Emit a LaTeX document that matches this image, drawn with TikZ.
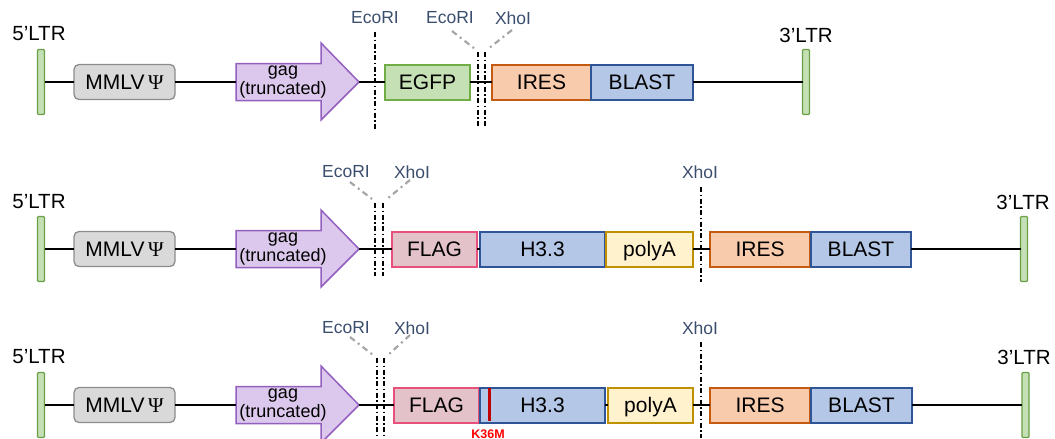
\documentclass[tikz,border=0pt]{standalone}
\usepackage{fontspec}
\setmainfont{Liberation Sans}
\newfontfamily\psifont{Liberation Serif}
\usetikzlibrary{calc}

\definecolor{ltrfill}{HTML}{C5E0B4}
\definecolor{ltrdraw}{HTML}{6A9F45}
\definecolor{mmlvfill}{HTML}{D9D9D9}
\definecolor{mmlvdraw}{HTML}{8C8C8C}
\definecolor{gagfill}{HTML}{DCC8EC}
\definecolor{gagdraw}{HTML}{9360C0}
\definecolor{egfpfill}{HTML}{C5E0B4}
\definecolor{egfpdraw}{HTML}{70AD47}
\definecolor{iresfill}{HTML}{F8CBAD}
\definecolor{iresdraw}{HTML}{C55A11}
\definecolor{blastfill}{HTML}{B4C7E7}
\definecolor{blastdraw}{HTML}{2F5597}
\definecolor{flagfill}{HTML}{E4C2CA}
\definecolor{flagdraw}{HTML}{E8507C}
\definecolor{polyfill}{HTML}{FFF2CC}
\definecolor{polydraw}{HTML}{BF9000}
\definecolor{enzcol}{HTML}{3B4E6E}
\definecolor{mutred}{HTML}{C00000}
\definecolor{mutlabel}{HTML}{FF0000}
\definecolor{sitegray}{HTML}{A6A6A6}

\tikzset{
  every node/.style={inner sep=0pt, outer sep=0pt},
  backbone/.style={line width=1.5pt, black},
  ltr/.style={draw=ltrdraw, fill=ltrfill, line width=1.3pt, rounded corners=1pt,
    minimum width=7pt, minimum height=65pt},
  ltrlabel/.style={font=\fontsize{20.5}{22}\selectfont},
  part/.style={line width=2pt, minimum height=35pt,
    text height=15pt, text depth=0pt, font=\fontsize{21}{23}\selectfont},
  mmlvbox/.style={part, draw=mmlvdraw, fill=mmlvfill, rounded corners=5pt, minimum width=101pt, line width=1.3pt},
  egfpbox/.style={part, draw=egfpdraw, fill=egfpfill},
  iresbox/.style={part, draw=iresdraw, fill=iresfill},
  blastbox/.style={part, draw=blastdraw, fill=blastfill},
  flagbox/.style={part, draw=flagdraw, fill=flagfill},
  polybox/.style={part, draw=polydraw, fill=polyfill},
  gagshape/.style={draw=gagdraw, fill=gagfill, line width=1.5pt, line join=miter},
  gagtext/.style={align=center, font=\fontsize{18}{19}\selectfont},
  enz/.style={text=enzcol, font=\fontsize{17.5}{19}\selectfont},
  site/.style={black, line width=1.4pt, dash pattern=on 5pt off 2.5pt on 1.5pt off 2.5pt},
  sitelead/.style={sitegray, line width=2.2pt, dash pattern=on 6pt off 4pt on 2pt off 4pt},
  mutbar/.style={mutred, line width=3pt},
  mutlab/.style={text=mutlabel, font=\fontsize{12.5}{14}\bfseries\selectfont},
}

% truncated gag arrow; #1 names the text node, its tail and its tip
\newcommand\gagarrow[1]{%
  \draw[gagshape] (236,-18.5) -- (321,-18.5) -- (321,-39) -- (359,0)
    -- (321,38) -- (321,18.5) -- (236,18.5) -- cycle;
  \node[gagtext] (#1) at (283,0) {gag\\(truncated)};
  \coordinate (#1tail) at (236,0);
  \coordinate (#1tip) at (359,0);
}

\begin{document}
\begin{tikzpicture}[x=1pt, y=-1pt]
\useasboundingbox (0,0) rectangle (1055,439);

% ---------------- construct 1: EGFP ----------------
\begin{scope}[shift={(0,82)}]
  \node[ltr] (ltr5a) at (41,0) {};
  \node[ltrlabel] (lab5a) at (39,-48) {5’LTR};
  \node[mmlvbox] (mmlva) at (124.5,0) {MMLV\,{\psifont Ψ}};
  \gagarrow{gaga}
  \node[egfpbox, minimum width=85pt] (egfpa) at (427.5,0) {EGFP};
  \node[iresbox, minimum width=99pt] (iresa) at (541.5,0) {IRES};
  \node[blastbox, minimum width=102pt] (blasta) at (642,0) {BLAST};
  \node[ltr] (ltr3a) at (806,0) {};
  \node[ltrlabel] (lab3a) at (806,-47) {3’LTR};

  \draw[backbone] (ltr5a.east) -- (mmlva.west);
  \draw[backbone] (mmlva.east) -- (gagatail);
  \draw[backbone] (gagatip) -- (egfpa.west);
  \draw[backbone] (egfpa.east) -- (iresa.west);
  \draw[backbone] (blasta.east) -- (ltr3a.west);

  % restriction sites
  \node[enz] (ecoa1) at (375,-64) {EcoRI};
  \coordinate (ecoa1t) at (375,-50);
  \coordinate (ecoa1b) at (375,48);
  \draw[site] (ecoa1t) -- (ecoa1b);

  \node[enz] (ecoa2) at (450,-64) {EcoRI};
  \node[enz] (xhoa) at (513,-64) {XhoI};
  \coordinate (ecoa2s) at (452,-51);
  \coordinate (ecoa2e) at (475,-33);
  \coordinate (xhoas) at (512,-52);
  \coordinate (xhoae) at (488,-33);
  \draw[sitelead] (ecoa2s) -- (ecoa2e);
  \draw[sitelead] (xhoas) -- (xhoae);
  \coordinate (ecoa2t) at (478,-30);
  \coordinate (ecoa2b) at (478,45);
  \coordinate (xhoat) at (485,-30);
  \coordinate (xhoab) at (485,45);
  \draw[site] (ecoa2t) -- (ecoa2b);
  \draw[site] (xhoat) -- (xhoab);
\end{scope}

% ---------------- construct 2: FLAG-H3.3 ----------------
\begin{scope}[shift={(0,249)}]
  \node[ltr] (ltr5b) at (41,0) {};
  \node[ltrlabel] (lab5b) at (39,-47) {5’LTR};
  \node[mmlvbox] (mmlvb) at (124.5,0) {MMLV\,{\psifont Ψ}};
  \gagarrow{gagb}
  \node[flagbox, minimum width=85pt] (flagb) at (434.5,0) {FLAG};
  \node[blastbox, minimum width=125pt] (h33b) at (542.5,0) {H3.3};
  \node[polybox, minimum width=87pt] (polyb) at (649.5,0) {polyA};
  \node[iresbox, minimum width=100pt] (iresb) at (760,0) {IRES};
  \node[blastbox, minimum width=100pt] (blastb) at (861,0) {BLAST};
  \node[ltr] (ltr3b) at (1024,0) {};
  \node[ltrlabel] (lab3b) at (1023,-47) {3’LTR};

  \draw[backbone] (ltr5b.east) -- (mmlvb.west);
  \draw[backbone] (mmlvb.east) -- (gagbtail);
  \draw[backbone] (gagbtip) -- (flagb.west);
  \draw[backbone] (flagb.east) -- (h33b.west);
  \draw[backbone] (polyb.east) -- (iresb.west);
  \draw[backbone] (blastb.east) -- (ltr3b.west);

  \node[enz] (ecob) at (346,-77) {EcoRI};
  \node[enz] (xhob1) at (412,-77) {XhoI};
  \coordinate (ecobs) at (350,-67);
  \coordinate (ecobe) at (372,-50);
  \coordinate (xhob1s) at (410,-69);
  \coordinate (xhob1e) at (387,-50);
  \draw[sitelead] (ecobs) -- (ecobe);
  \draw[sitelead] (xhob1s) -- (xhob1e);
  \coordinate (ecobt) at (375,-46);
  \coordinate (ecobb) at (375,27);
  \coordinate (xhob1t) at (383,-46);
  \coordinate (xhob1b) at (383,27);
  \draw[site] (ecobt) -- (ecobb);
  \draw[site] (xhob1t) -- (xhob1b);

  \node[enz] (xhob2) at (700,-77) {XhoI};
  \coordinate (xhob2t) at (701,-62);
  \coordinate (xhob2b) at (701,33);
  \draw[site] (xhob2t) -- (xhob2b);
\end{scope}

% ---------------- construct 3: FLAG-H3.3 K36M ----------------
\begin{scope}[shift={(0,405)}]
  \node[ltr] (ltr5c) at (41,0) {};
  \node[ltrlabel] (lab5c) at (39,-48) {5’LTR};
  \node[mmlvbox] (mmlvc) at (124.5,0) {MMLV\,{\psifont Ψ}};
  \gagarrow{gagc}
  \node[flagbox, minimum width=85pt] (flagc) at (436.5,0) {FLAG};
  \node[blastbox, minimum width=125pt] (h33c) at (542.5,0) {H3.3};
  \node[polybox, minimum width=85pt] (polyc) at (650.5,0) {polyA};
  \node[iresbox, minimum width=100pt] (iresc) at (760,0) {IRES};
  \node[blastbox, minimum width=101pt] (blastc) at (861.5,0) {BLAST};
  \node[ltr] (ltr3c) at (1025.5,0) {};
  \node[ltrlabel] (lab3c) at (1024,-48) {3’LTR};

  \draw[backbone] (ltr5c.east) -- (mmlvc.west);
  \draw[backbone] (mmlvc.east) -- (gagctail);
  \draw[backbone] (gagctip) -- (flagc.west);
  \draw[backbone] (h33c.east) -- (polyc.west);
  \draw[backbone] (polyc.east) -- (iresc.west);
  \draw[backbone] (blastc.east) -- (ltr3c.west);

  % point mutation in H3.3
  \coordinate (mutt) at ($(h33c.north west)+(9.5,0)$);
  \coordinate (mutb) at ($(h33c.south west)+(9.5,-2)$);
  \draw[mutbar] (mutt) -- (mutb);
  \node[mutlab] (mutc) at (488,29) {K36M};

  \node[enz] (ecoc) at (346,-77) {EcoRI};
  \node[enz] (xhoc1) at (412,-77) {XhoI};
  \coordinate (ecocs) at (350,-68);
  \coordinate (ecoce) at (373,-50);
  \coordinate (xhoc1s) at (410,-70);
  \coordinate (xhoc1e) at (388,-50);
  \draw[sitelead] (ecocs) -- (ecoce);
  \draw[sitelead] (xhoc1s) -- (xhoc1e);
  \coordinate (ecoct) at (377,-47);
  \coordinate (ecocb) at (377,33);
  \coordinate (xhoc1t) at (384,-47);
  \coordinate (xhoc1b) at (384,33);
  \draw[site] (ecoct) -- (ecocb);
  \draw[site] (xhoc1t) -- (xhoc1b);

  \node[enz] (xhoc2) at (700,-77) {XhoI};
  \coordinate (xhoc2t) at (701,-63);
  \coordinate (xhoc2b) at (701,33);
  \draw[site] (xhoc2t) -- (xhoc2b);
\end{scope}
\end{tikzpicture}
\end{document}
